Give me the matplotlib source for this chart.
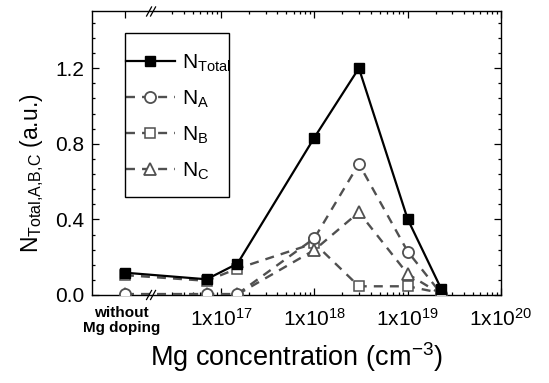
import matplotlib
matplotlib.use("Agg")
import matplotlib.pyplot as plt
from matplotlib.patches import Rectangle
import numpy as np

plt.rcParams['font.family'] = ['Liberation Sans', 'DejaVu Sans']
plt.rcParams['mathtext.fontset'] = 'custom'
plt.rcParams['mathtext.rm'] = 'Liberation Sans'
plt.rcParams['mathtext.it'] = 'Liberation Sans:italic'
plt.rcParams['mathtext.bf'] = 'Liberation Sans:bold'

# Mg concentration (cm^-3); first point is the undoped sample
conc = [7e16, 1.5e17, 1e18, 3e18, 1e19, 2.3e19]
undoped_pos = 15.97   # where the "without Mg doping" point sits (log10 units)

n_total = [0.118, 0.083, 0.166, 0.833, 1.20, 0.401, 0.030]
n_a = [0.005, 0.005, 0.005, 0.300, 0.694, 0.230, 0.005]
n_b = [0.105, 0.075, 0.140, 0.274, 0.046, 0.046, 0.010]
n_c = [0.003, 0.003, 0.003, 0.238, 0.438, 0.111, 0.003]

xticks = [17, 18, 19, 20]
xticklabels = [r'1x10$^{%d}$' % t for t in xticks]

x = [undoped_pos] + list(np.log10(conc))
gray = '#505050'

fig = plt.figure(figsize=(5.49, 3.83), dpi=100)
ax = fig.add_axes([0.1667, 0.2298, 0.7459, 0.7402])

ax.plot(x, n_total, '-', color='black', lw=1.6, marker='s', ms=7,
        mfc='black', mec='black', label=r'N$_{\mathrm{Total}}$', zorder=5)
dash = (3.8, 3.0)
ax.plot(x, n_a, '--', color=gray, lw=1.7, dashes=dash, marker='o', ms=8,
        mfc='white', mec=gray, mew=1.3, label=r'N$_{\mathrm{A}}$', zorder=4)
ax.plot(x, n_b, '--', color=gray, lw=1.7, dashes=dash, marker='s', ms=7,
        mfc='white', mec=gray, mew=1.1, label=r'N$_{\mathrm{B}}$', zorder=3)
ax.plot(x, n_c, '--', color=gray, lw=1.7, dashes=dash, marker='^', ms=8,
        mfc='white', mec=gray, mew=1.3, label=r'N$_{\mathrm{C}}$', zorder=3)

ax.set_xlim(15.612, 20)
ax.set_ylim(0, 1.5)

ax.set_xticks([undoped_pos] + xticks)
ax.set_xticklabels([''] + xticklabels, fontsize=15)
minor = [np.log10(k * 10.0 ** n) for n in range(16, 20) for k in range(2, 10)]
minor = [m for m in minor if m > 16.4]
ax.set_xticks(minor, minor=True)

ax.set_yticks([0.0, 0.4, 0.8, 1.2])
ax.set_yticklabels(['0.0', '0.4', '0.8', '1.2'], fontsize=15)
ax.set_yticks(np.arange(0, 1.5, 0.08), minor=True)

ax.tick_params(which='both', direction='in', top=True, right=True, width=0.9)
ax.tick_params(which='major', length=5)
ax.tick_params(which='minor', length=2.3)
ax.tick_params(axis='x', pad=9)
ax.tick_params(axis='y', pad=5)
for s in ax.spines.values():
    s.set_linewidth(1.0)

# axis break marks
bx = 16.25
xr = ax.get_xlim()
dx = 2.5 * (xr[1] - xr[0]) / 409.5
for yb in (0, 1):
    tr = ax.get_xaxis_transform()
    for off in (-dx * 0.8, dx * 0.8):
        ax.plot([bx + off - dx, bx + off + dx], [yb - 0.016, yb + 0.016],
                color='black', lw=0.9, transform=tr, clip_on=False, zorder=6)

ax.text(undoped_pos - 0.04, -0.04, 'without\nMg doping', transform=ax.get_xaxis_transform(),
        ha='center', va='top', fontsize=11, fontweight='bold', linespacing=1.1)

ax.set_xlabel(r'Mg concentration (cm$^{-3}$)', fontsize=19.5, labelpad=8)
ax.set_ylabel(r'N$_{\mathrm{Total{,}A{,}B{,}C}}$ (a.u.)', fontsize=16.5)
ax.yaxis.set_label_coords(-0.11, 0.43)

leg = ax.legend(loc='upper left', bbox_to_anchor=(0.0842, 0.855), borderaxespad=0,
                fontsize=15, frameon=False,
                handlelength=2.35, handletextpad=0.35, labelspacing=0.7,
                borderpad=0)
ax.add_patch(Rectangle((0.0818, 0.3457), 0.254, 0.5785, transform=ax.transAxes,
                       fill=False, edgecolor='black', lw=1.0, zorder=6))

fig.savefig('out.png', dpi=100)
